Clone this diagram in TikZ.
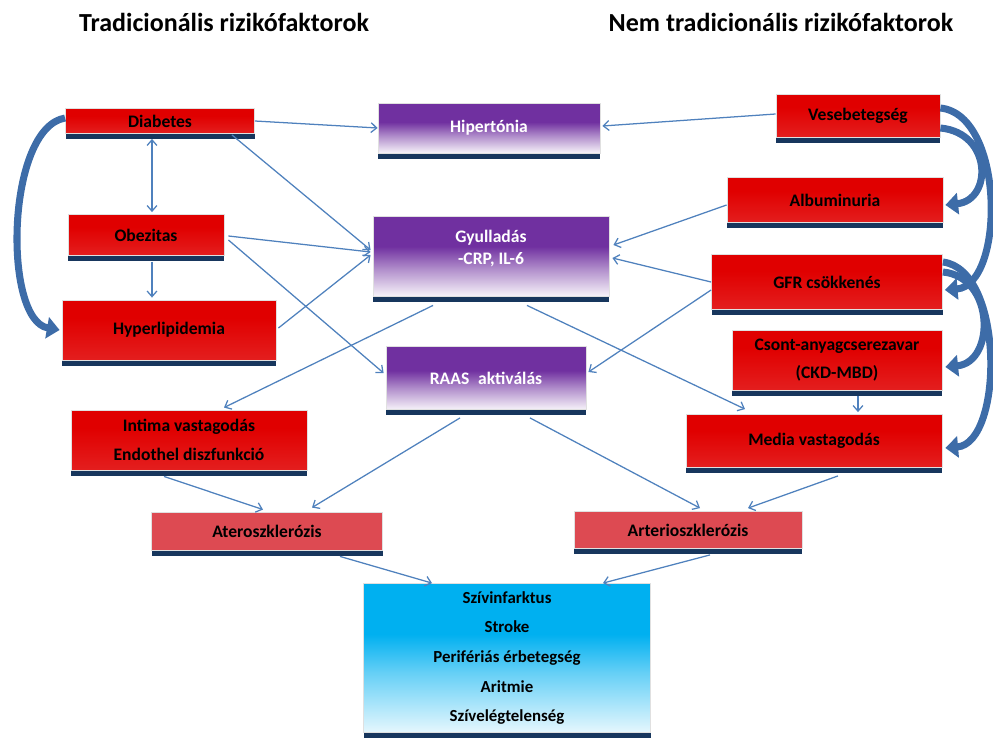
\documentclass[tikz,border=0pt]{standalone}
\usepackage{fontspec}
\setmainfont{Carlito}
\usetikzlibrary{arrows.meta,calc,shadows}
\definecolor{boxred}{HTML}{E00000}
\definecolor{boxpink}{HTML}{DD4A52}
\definecolor{boxpurp}{HTML}{7030A0}
\definecolor{boxcyan}{HTML}{00B0F0}
\definecolor{shadenavy}{HTML}{17365D}
\definecolor{linkblue}{HTML}{4F81BD}
\definecolor{bigblue}{HTML}{3D6CA8}
\pgfdeclareverticalshading{purpfade}{100bp}{color(0bp)=(boxpurp!6); color(25bp)=(boxpurp!6); color(42bp)=(boxpurp!55); color(56bp)=(boxpurp); color(100bp)=(boxpurp)}
\pgfdeclareverticalshading{cyanfade}{100bp}{color(0bp)=(boxcyan!10); color(25bp)=(boxcyan!10); color(45bp)=(boxcyan!60); color(58bp)=(boxcyan); color(100bp)=(boxcyan)}
\pgfdeclareverticalshading{redfade}{100bp}{color(0bp)=(boxred!86!white); color(25bp)=(boxred!88!white); color(60bp)=(boxred); color(100bp)=(boxred)}
\tikzset{
  sz/.style 2 args={minimum width=#1*0.025cm,minimum height=#2*0.025cm},
  riskbox/.style={draw=black!12,line width=0.6pt,inner sep=0pt,align=center,
    font=\bfseries\fontsize{12.5}{20.5}\selectfont,
    drop shadow={shadow xshift=0pt,shadow yshift=-4pt,fill=shadenavy,opacity=1}},
  redbox/.style={riskbox,shade,shading=redfade},
  pinkbox/.style={riskbox,fill=boxpink},
  purpbox/.style={riskbox,shade,shading=purpfade,text=white},
  cyanbox/.style={riskbox,shade,shading=cyanfade,font=\bfseries\fontsize{12}{21}\selectfont},
  title/.style={font=\bfseries\fontsize{18.5}{22}\selectfont},
  link/.style={draw=linkblue,line width=0.9pt,-{Straight Barb[length=4pt,width=7pt]}},
  bigarrow/.style={draw=bigblue,line width=5pt,-{Triangle[length=9pt,width=15pt]}}
}
\begin{document}
\begin{tikzpicture}[x=0.025cm,y=-0.025cm]
    \useasboundingbox (0,0) rectangle (993,737);
    \node[title] (trad) at (224,22) {Tradicionális rizikófaktorok};
    \node[title] (nemtrad) at (781,22) {Nem tradicionális rizikófaktorok};

    \node[redbox,sz={189}{25}] (diab) at (160,121) {Diabetes};
    \node[purpbox,sz={222}{50}] (hiper) at (489,128) {Hipertónia};
    \node[redbox,sz={164}{43}] (vese) at (858,116) {Vesebetegség};
    \node[redbox,sz={156}{41}] (obez) at (146,235) {Obezitas};
    \node[purpbox,sz={236}{80},font=\bfseries\fontsize{12.5}{15.5}\selectfont] (gyul) at (491,256) {Gyulladás\\-CRP, IL-6\\[-3pt]\mbox{}};
    \node[redbox,sz={216}{45}] (albu) at (835,200) {Albuminuria};
    \node[redbox,sz={214}{60}] (hyper) at (169,330) {Hyperlipidemia};
    \node[redbox,sz={231}{55}] (gfr) at (827,282) {GFR csökkenés};
    \node[redbox,sz={210}{60}] (csont) at (837,360) {Csont-anyagcserezavar\\(CKD-MBD)};
    \node[purpbox,sz={200}{63}] (raas) at (486,378) {RAAS\enspace aktiválás};
    \node[redbox,sz={236}{60}] (intima) at (189,440) {Intima vastagodás\\Endothel diszfunkció};
    \node[redbox,sz={256}{53}] (media) at (814,441) {Media vastagodás};
    \node[pinkbox,sz={231}{38}] (ater) at (267,531) {Ateroszklerózis};
    \node[pinkbox,sz={228}{37}] (arter) at (688,530) {Arterioszklerózis};
    \node[cyanbox,sz={287}{149}] (kimenet) at (507,658) {Szívinfarktus\\Stroke\\Perifériás érbetegség\\Aritmie\\Szívelégtelenség};

    \draw[link] (diab.east) -- (hiper.west);
    \draw[link] ($(diab.south east)+(-23,1)$) -- ($(gyul.west)+(-2,-6)$);
    \draw[link,{Straight Barb[length=4pt,width=7pt]}-{Straight Barb[length=4pt,width=7pt]}] ($(diab.south)+(-8,5)$) -- ($(obez.north)+(6,-2)$);
    \draw[link] ($(obez.south)+(6,6)$) -- ($(hyper.north)+(-17,-2)$);
    \draw[link] ($(obez.east)+(4,1)$) -- ($(gyul.west)+(-2,-4)$);
    \draw[link] ($(obez.east)+(4,5)$) -- ($(raas.west)+(-2,-5)$);
    \draw[link] ($(hyper.east)+(2,-2)$) -- ($(gyul.west)+(-2,-1)$);
    \draw[link] ($(vese.west)+(0,-2)$) -- ($(hiper.east)+(2,-2)$);
    \draw[link] ($(albu.west)+(0,5)$) -- ($(gyul.east)+(4,-11)$);
    \draw[link] (gfr.west) -- ($(gyul.east)+(3,2)$);
    \draw[link] ($(gfr.west)+(0,8)$) -- ($(raas.east)+(2,-6)$);
    \draw[link] ($(gyul.south)+(-58,9)$) -- ($(intima.north)+(35,-2)$);
    \draw[link] ($(gyul.south)+(36,9)$) -- ($(media.north)+(-69,-5)$);
    \draw[link] ($(csont.south)+(21,6)$) -- ($(media.north)+(44,-2)$);
    \draw[link] ($(intima.south)+(-25,6)$) -- ($(ater.north)+(-4,-2)$);
    \draw[link] ($(raas.south)+(-26,8)$) -- ($(ater.north)+(45,-4)$);
    \draw[link] ($(raas.south)+(44,8)$) -- ($(arter.north)+(12,-3)$);
    \draw[link] ($(media.south)+(24,8)$) -- ($(arter.north)+(60,-3)$);
    \draw[link] ($(ater.south)+(73,6)$) -- ($(kimenet.north)+(-75,0)$);
    \draw[link] ($(arter.south)+(22,6)$) -- ($(kimenet.north)+(96,0)$);

    \draw[bigarrow] ($(diab.west)+(0,-3)$) .. controls +(-59,10) and +(-57,-10) .. ($(hyper.west)+(-2,0)$);
    \draw[bigarrow] ($(vese.east)+(0,-8)$) .. controls +(65,7) and +(60,-5) .. ($(gfr.east)+(2,8)$);
    \draw[bigarrow] ($(vese.east)+(0,12)$) .. controls +(52,5) and +(47,-5) .. ($(albu.east)+(2,5)$);
    \draw[bigarrow] ($(gfr.east)+(0,-20)$) .. controls +(62,8) and +(58,-5) .. ($(media.east)+(3,7)$);
    \draw[bigarrow] ($(gfr.east)+(0,-10)$) .. controls +(52,5) and +(50,-5) .. ($(csont.east)+(3,7)$);
\end{tikzpicture}
\end{document}
